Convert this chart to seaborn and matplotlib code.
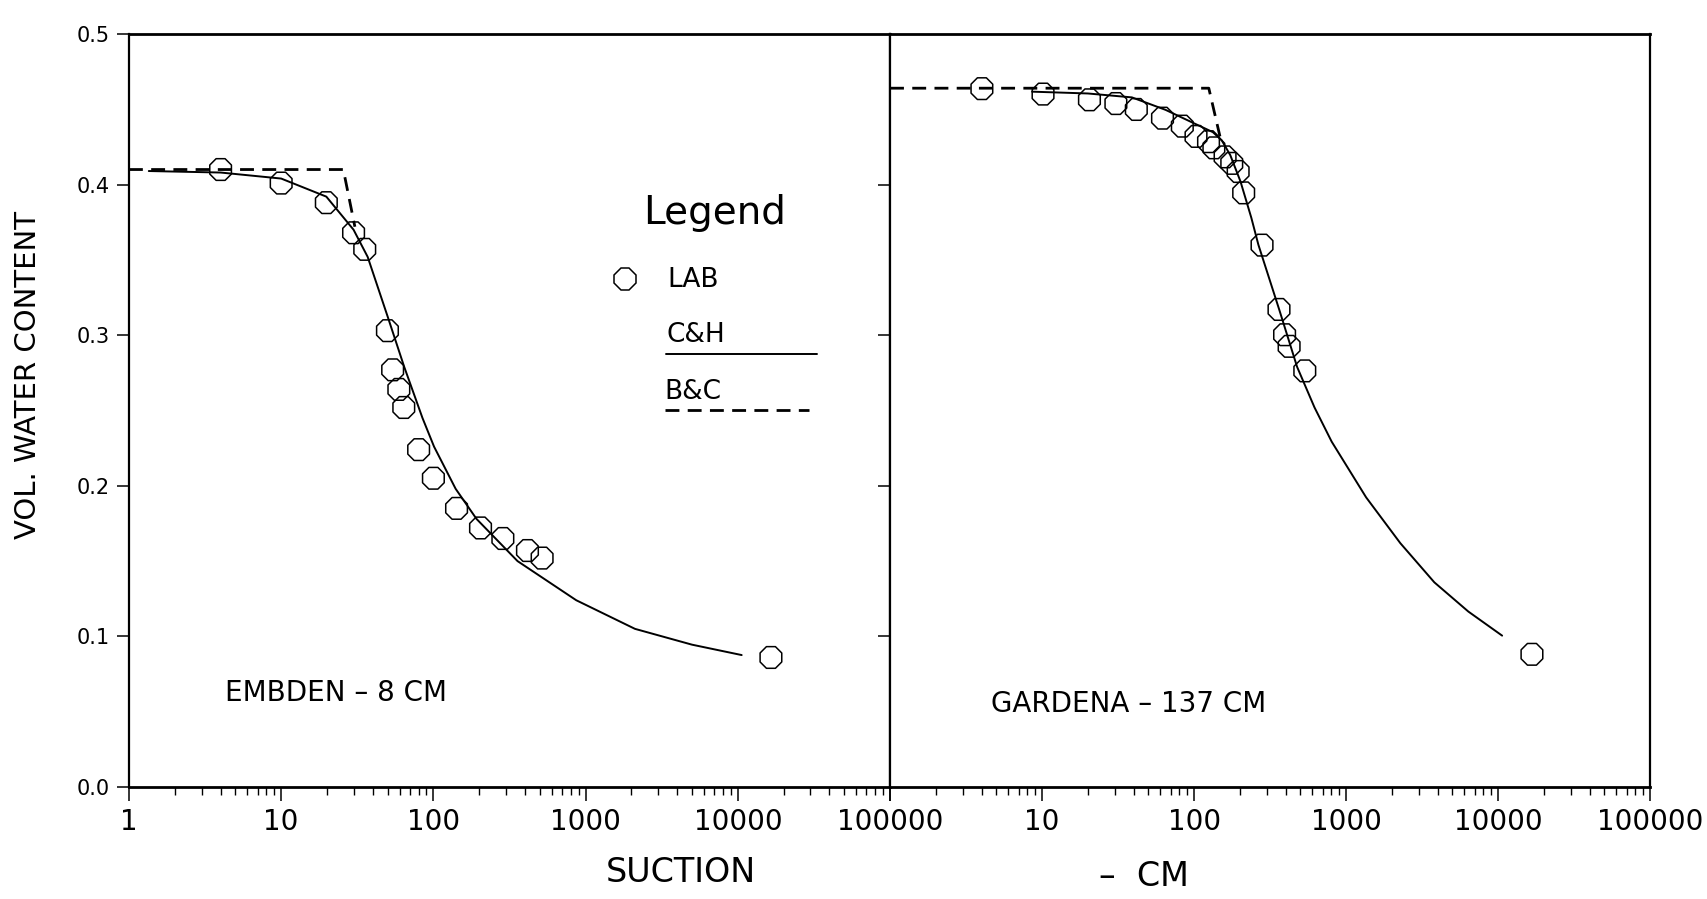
import numpy as np
import seaborn as sns
from matplotlib import pyplot as plt, ticker

# values: suction (cm) vs vol. water content
# EMBDEN - 8 CM
embden_lab_suction = [4.0, 10.0, 19.8, 29.9, 35.4, 49.9, 54.0, 59.3, 63.9, 80.0,
                      100.0, 142.0, 204.0, 286.0, 415.0, 518.0, 16500.0]
embden_lab_theta = [0.410, 0.401, 0.388, 0.368, 0.357, 0.303, 0.277, 0.264, 0.252, 0.224,
                    0.205, 0.185, 0.172, 0.165, 0.157, 0.152, 0.086]
embden_ch_suction = [1.35, 4.0, 10.0, 19.8, 29.9, 37.0, 50.2, 64.3, 84.8, 101.0,
                     140.0, 192.0, 357.0, 868.0, 2110.0, 5000.0, 10600.0]
embden_ch_theta = [0.409, 0.408, 0.404, 0.392, 0.370, 0.352, 0.312, 0.279, 0.245, 0.226,
                   0.198, 0.178, 0.150, 0.124, 0.105, 0.0945, 0.0876]
embden_bc_suction = [1.0, 25.6, 30.5]
embden_bc_theta = [0.410, 0.410, 0.372]

# GARDENA - 137 CM
gardena_lab_suction = [4.02, 10.15, 20.5, 30.6, 41.7, 62.0, 83.7, 103.0, 124.5, 135.0,
                       160.0, 177.0, 195.0, 212.0, 280.0, 362.0, 394.0, 422.0, 535.0, 16700.0]
gardena_lab_theta = [0.4637, 0.4601, 0.4563, 0.4538, 0.4499, 0.4441, 0.4388, 0.4320, 0.4285, 0.4244,
                     0.4184, 0.4141, 0.4087, 0.3945, 0.3598, 0.3171, 0.3003, 0.2926, 0.2763, 0.0881]
gardena_ch_suction = [8.6, 20.0, 39.0, 65.0, 98.0, 133.0, 152.0, 173.0, 202.0, 238.0,
                      265.0, 364.0, 476.0, 620.0, 804.0, 1355.0, 2274.0, 3806.0, 6370.0, 10630.0]
gardena_ch_theta = [0.4617, 0.4605, 0.4579, 0.4496, 0.4411, 0.4348, 0.4294, 0.4196, 0.4021, 0.3780,
                    0.3600, 0.3167, 0.2790, 0.2520, 0.2293, 0.1923, 0.1619, 0.1359, 0.1165, 0.1005]
gardena_bc_suction = [1.0, 125.0, 148.0]
gardena_bc_theta = [0.464, 0.464, 0.432]

x_ticks = [1, 10, 100, 1000, 10000, 100000]
left_xticklabels = ['1', '10', '100', '1000', '10000', '100000']
right_xticklabels = ['', '10', '100', '1000', '10000', '100000']
y_ticks = [0.0, 0.1, 0.2, 0.3, 0.4, 0.5]
y_ticklabels = ['0.0', '0.1', '0.2', '0.3', '0.4', '0.5']
right_y_ticks = [0.1, 0.2, 0.3, 0.4]

DASH = (0, (5, 3))

sns.set_theme(style='ticks')
plt.rcParams['font.family'] = ['DejaVu Sans']
plt.rcParams.update({'text.color': 'black', 'axes.labelcolor': 'black',
                     'xtick.color': 'black', 'ytick.color': 'black',
                     'axes.edgecolor': 'black'})

fig = plt.figure(figsize=(17.08, 8.99), dpi=100)
ax1 = fig.add_axes([0.0755, 0.1246, 0.4456, 0.8376])
ax2 = fig.add_axes([0.5211, 0.1246, 0.4450, 0.8376])


def draw_panel(ax, lab_x, lab_y, ch_x, ch_y, bc_x, bc_y):
    ax.set_xscale('log')
    sns.lineplot(x=ch_x, y=ch_y, ax=ax, color='black', linewidth=1.4,
                 sort=False, estimator=None)
    sns.lineplot(x=bc_x, y=bc_y, ax=ax, color='black', linewidth=2.0,
                 linestyle=DASH, sort=False, estimator=None)
    sns.scatterplot(x=lab_x, y=lab_y, ax=ax, marker='8', s=285, linewidth=1.1, zorder=3)
    pts = ax.collections[-1]
    pts.set_facecolor('none')
    pts.set_edgecolor('black')

    ax.set_xlim(1, 1e5)
    ax.set_ylim(0, 0.5)
    ax.set_xlabel('')
    ax.set_ylabel('')
    ax.xaxis.set_major_locator(ticker.FixedLocator(x_ticks))
    ax.xaxis.set_minor_locator(ticker.LogLocator(base=10, subs=np.arange(2, 10), numticks=20))
    ax.xaxis.set_minor_formatter(ticker.NullFormatter())
    ax.tick_params(axis='x', which='major', direction='out', length=10, width=1.1,
                   labelsize=20, pad=5)
    ax.tick_params(axis='x', which='minor', direction='out', length=6, width=1.0)
    ax.tick_params(axis='y', direction='out', length=9, width=1.1, labelsize=15, pad=5)
    for sp in ax.spines.values():
        sp.set_visible(True)
        sp.set_color('black')
        sp.set_linewidth(1.6)
    ax.spines['bottom'].set_linewidth(2.0)
    ax.spines['top'].set_linewidth(2.0)


draw_panel(ax1, embden_lab_suction, embden_lab_theta, embden_ch_suction, embden_ch_theta,
           embden_bc_suction, embden_bc_theta)
draw_panel(ax2, gardena_lab_suction, gardena_lab_theta, gardena_ch_suction, gardena_ch_theta,
           gardena_bc_suction, gardena_bc_theta)

ax1.xaxis.set_major_formatter(ticker.FixedFormatter(left_xticklabels))
ax1.set_yticks(y_ticks)
ax1.set_yticklabels(y_ticklabels)

ax2.xaxis.set_major_formatter(ticker.FixedFormatter(right_xticklabels))
ax2.set_yticks(right_y_ticks)
ax2.tick_params(axis='y', labelleft=False)

# panel captions
ax1.text(0.272, 0.125, 'EMBDEN – 8 CM', transform=ax1.transAxes,
         ha='center', va='center', fontsize=20)
ax2.text(0.3145, 0.110, 'GARDENA – 137 CM', transform=ax2.transAxes,
         ha='center', va='center', fontsize=20)

# hand-drawn style legend inside the left panel
ax1.text(0.770, 0.762, 'Legend', transform=ax1.transAxes, ha='center', va='center', fontsize=28)
ax1.plot([0.652], [0.675], marker='8', ms=16.5, mfc='none', mec='black', mew=1.1,
         ls='none', transform=ax1.transAxes)
ax1.text(0.707, 0.673, 'LAB', transform=ax1.transAxes, ha='left', va='center', fontsize=19)
ax1.text(0.706, 0.600, 'C&H', transform=ax1.transAxes, ha='left', va='center', fontsize=19)
ax1.plot([0.706, 0.904], [0.575, 0.575], color='black', lw=1.4, transform=ax1.transAxes)
ax1.text(0.704, 0.524, 'B&C', transform=ax1.transAxes, ha='left', va='center', fontsize=19)
ax1.plot([0.704, 0.894], [0.501, 0.501], color='black', lw=2.0, ls=DASH,
         transform=ax1.transAxes)

# axis titles
fig.text(0.3987, 0.030, 'SUCTION', ha='center', va='center', fontsize=24)
fig.text(0.670, 0.0245, '–  CM', ha='center', va='center', fontsize=24)
fig.text(0.0164, 0.583, 'VOL. WATER CONTENT', rotation=90, ha='center', va='center', fontsize=21)

fig.savefig('out.png', dpi=100)
